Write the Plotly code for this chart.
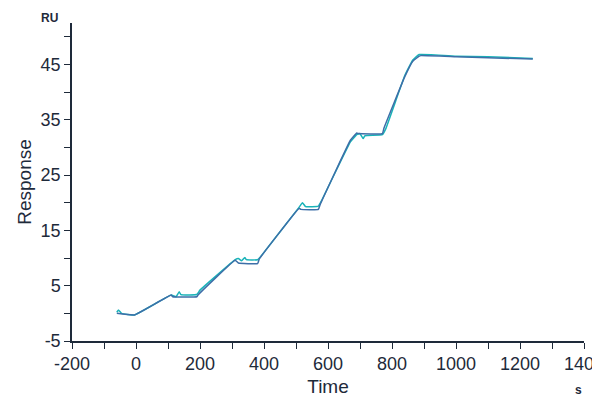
import plotly.graph_objects as go

fit_t = [-60, -5, 110, 115, 190, 195, 310, 320, 380, 385, 510, 515, 570, 575, 670, 690, 695, 770, 775, 840, 865, 885, 890, 1000, 1100, 1240]
fit_v = [0.0, -0.3, 3.3, 3.0, 3.0, 3.4, 9.6, 9.1, 9.0, 9.8, 19.0, 18.8, 18.8, 19.6, 31.3, 32.6, 32.5, 32.5, 33.5, 42.8, 45.6, 46.5, 46.6, 46.4, 46.2, 46.0]

data_t = [-60, -55, -45, -5, 110, 125, 135, 140, 190, 200, 310, 320, 330, 340, 345, 380, 390, 510, 520, 530, 570, 580, 670, 690, 700, 710, 715, 770, 780, 840, 865, 885, 1000, 1100, 1240]
data_v = [0.2, 0.6, 0.0, -0.3, 3.3, 3.0, 3.9, 3.4, 3.4, 4.2, 9.7, 9.9, 9.5, 10.1, 9.7, 9.7, 10.3, 19.2, 20.0, 19.3, 19.4, 20.4, 31.0, 32.3, 32.5, 31.6, 32.1, 32.3, 33.3, 43.0, 45.8, 46.8, 46.5, 46.4, 46.1]

x_ticks = [-200, 0, 200, 400, 600, 800, 1000, 1200, 1400]
x_labels = ["-200", "0", "200", "400", "600", "800", "1000", "1200", "1400"]
y_ticks = [-5, 5, 15, 25, 35, 45]
y_labels = ["-5", "5", "15", "25", "35", "45"]

axc = "#1e2a3a"
fig = go.Figure()
fig.add_trace(go.Scatter(x=data_t, y=data_v, mode="lines", line=dict(color="#19b3b8", width=1.5, shape="spline", smoothing=0.3)))
fig.add_trace(go.Scatter(x=fit_t, y=fit_v, mode="lines", line=dict(color="#3d6fa8", width=1.5, shape="spline", smoothing=0.3)))

font = "Liberation Sans, Arial, sans-serif"
fig.update_layout(
    width=600, height=400, showlegend=False,
    plot_bgcolor="white", paper_bgcolor="white",
    margin=dict(l=64, r=24, t=15, b=67),
    font=dict(family=font, color=axc, size=18),
    xaxis=dict(range=[-200, 1400], tickvals=x_ticks, ticktext=x_labels, showgrid=False, zeroline=False,
               automargin=False,
               showline=True, linecolor=axc, linewidth=1.5, ticks="outside", ticklen=6,
               tickcolor=axc, minor=dict(dtick=100, ticks="outside", ticklen=6, tickcolor=axc),
               title=dict(text="Time", font=dict(size=19), standoff=6)),
    yaxis=dict(range=[-5, 52.5], tickvals=y_ticks, ticktext=y_labels, showgrid=False, zeroline=False,
               automargin=False,
               showline=True, linecolor=axc, linewidth=1.5, ticks="outside", ticklen=6,
               tickcolor=axc, minor=dict(tickvals=[0, 10, 20, 30, 40, 50], ticks="outside", ticklen=6, tickcolor=axc),
               title=dict(text="Response", font=dict(size=19), standoff=4)),
    annotations=[
        dict(text="<b>RU</b>", x=0, y=1, xref="paper", yref="paper", xanchor="right", yanchor="bottom",
             xshift=-12, yshift=-4, showarrow=False, font=dict(size=12)),
        dict(text="<b>s</b>", x=1, y=0, xref="paper", yref="paper", xanchor="center", yanchor="top",
             xshift=-6, yshift=-40, showarrow=False, font=dict(size=12)),
    ],
)
fig.write_html("out.html")
